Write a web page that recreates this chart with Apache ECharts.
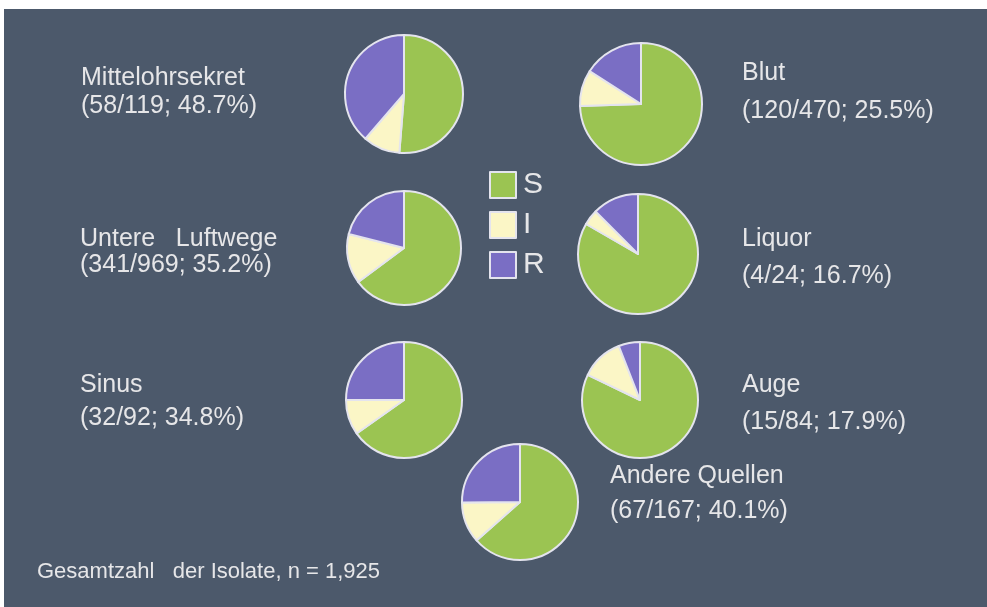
<!DOCTYPE html>
<html>
<head>
<meta charset="utf-8">
<script src="https://cdn.jsdelivr.net/npm/echarts@6/dist/echarts.min.js"></script>
<style>
html, body { margin: 0; padding: 0; background: #ffffff; }
#container { width: 987px; height: 607px; }
</style>
</head>
<body>
<div id="container"></div>
<script>
// Isolate nach Quelle: S / I / R
var categories = ['S', 'I', 'R'];
var sources = ['Mittelohrsekret', 'Blut', 'Untere   Luftwege', 'Liquor', 'Sinus', 'Auge', 'Andere Quellen'];
var summaries = ['(58/119; 48.7%)', '(120/470; 25.5%)', '(341/969; 35.2%)', '(4/24; 16.7%)', '(32/92; 34.8%)', '(15/84; 17.9%)', '(67/167; 40.1%)'];
var sValues = [61, 350, 628, 20, 60, 69, 106];
var iValues = [12, 45, 137, 1, 9, 10, 19];
var rValues = [46, 75, 204, 3, 23, 5, 42];
var footnote = 'Gesamtzahl   der Isolate, n = 1,925';

var colors = ['#9bc452', '#fbf6c6', '#7a6ec4'];

// pie centers / radius, label anchor (x, cap-center y of both lines)
var pieLayout = [
    { c: [404, 94], r: 59, lx: 81, ly: [78, 106] },
    { c: [641, 104], r: 61, lx: 742, ly: [73, 111] },
    { c: [404, 248], r: 57, lx: 80, ly: [239, 265] },
    { c: [638, 254], r: 60, lx: 742, ly: [239, 276] },
    { c: [404, 400], r: 58, lx: 80, ly: [385, 418] },
    { c: [640, 400], r: 58, lx: 742, ly: [385, 422] },
    { c: [520, 502], r: 58, lx: 610, ly: [476, 511] }
];

var dom = document.getElementById('container');
var myChart = echarts.init(dom, null, { renderer: 'canvas' });

var textFont = '25px "Liberation Sans", Arial, sans-serif';
var textColor = '#e6e6e8';

var graphics = [
    {
        type: 'rect', left: 4, top: 9, z: -10, silent: true,
        shape: { width: 983, height: 598 },
        style: { fill: '#4c596b' }
    }
];

var series = [];
sources.forEach(function (name, i) {
    var L = pieLayout[i];
    series.push({
        name: name,
        type: 'pie',
        center: L.c,
        radius: L.r,
        startAngle: 90,
        clockwise: true,
        animation: false,
        label: { show: false },
        labelLine: { show: false },
        emphasis: { disabled: true },
        itemStyle: { borderColor: '#e4e4ee', borderWidth: 2 },
        data: [
            { name: 'S', value: sValues[i] },
            { name: 'I', value: iValues[i] },
            { name: 'R', value: rValues[i] }
        ]
    });
    graphics.push({
        type: 'text', x: L.lx, y: L.ly[0],
        style: { text: name, font: textFont, fill: textColor, verticalAlign: 'middle' }
    });
    graphics.push({
        type: 'text', x: L.lx, y: L.ly[1],
        style: { text: summaries[i], font: textFont, fill: textColor, verticalAlign: 'middle' }
    });
});

graphics.push({
    type: 'text', x: 37, y: 572,
    style: { text: footnote, font: '22px "Liberation Sans", Arial, sans-serif', fill: textColor, verticalAlign: 'middle' }
});

option = {
    backgroundColor: '#ffffff',
    color: colors,
    animation: false,
    legend: {
        orient: 'vertical',
        left: 484,
        top: 165,
        data: categories,
        icon: 'rect',
        itemWidth: 26,
        itemHeight: 26,
        itemGap: 10,
        itemStyle: { borderColor: '#e4e4ee', borderWidth: 2 },
        selectedMode: false,
        textStyle: { color: textColor, fontSize: 30, fontFamily: 'Liberation Sans', padding: [0, 0, 0, 2] }
    },
    graphic: graphics,
    series: series
};

if (option && typeof option === 'object') {
    myChart.setOption(option, true);
}
</script>
</body>
</html>
